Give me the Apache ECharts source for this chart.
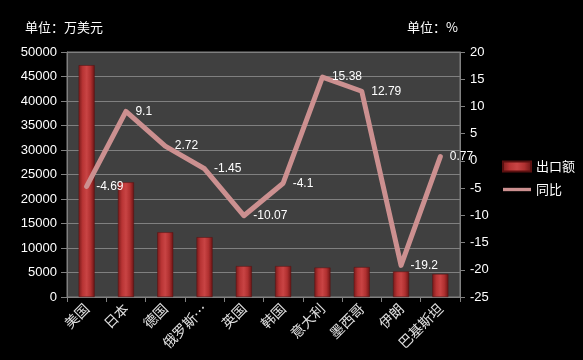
<!DOCTYPE html>
<html><head><meta charset="utf-8">
<script src="https://cdn.jsdelivr.net/npm/echarts@6/dist/echarts.min.js"></script>
<style>html,body{margin:0;padding:0;background:#000;}#c{width:583px;height:360px;}</style>
</head><body><div id="c"></div>
<script>
const categories = ['美国','日本','德国','俄罗斯…','英国','韩国','意大利','墨西哥','伊朗','巴基斯坦'];
const exportValues = [47300, 23400, 13200, 12200, 6300, 6300, 6000, 6100, 5200, 4700];
const yoyValues = [-4.69, 9.1, 2.72, -1.45, -10.07, -4.1, 15.38, 12.79, -19.2, 0.77];
const leftTicks = {min: 0, max: 50000, interval: 5000};
const rightTicks = {min: -25, max: 20, interval: 5};

const chart = echarts.init(document.getElementById('c'), null, {renderer: 'canvas'});
const tickFont = {color: '#ffffff', fontFamily: 'Liberation Sans', fontSize: 13};
chart.setOption({
  backgroundColor: '#000000',
  animation: false,
  title: [
    {text: '单位：万美元', left: 20, top: 16, textStyle: {color: '#fff', fontSize: 13, fontWeight: 'normal', fontFamily: 'Noto Sans CJK SC'}},
    {text: '单位：%', left: 402, top: 16, textStyle: {color: '#fff', fontSize: 13, fontWeight: 'normal', fontFamily: 'Noto Sans CJK SC'}}
  ],
  legend: {
    orient: 'vertical', left: 497, top: 155, itemGap: 10, itemWidth: 28, itemHeight: 10,
    textStyle: {color: '#fff', fontSize: 13, fontFamily: 'Noto Sans CJK SC'},
    data: [
      {name: '出口额', icon: 'rect'},
      {name: '同比', icon: 'path://M0,0 L10,0 L10,1.2 L0,1.2 Z'}
    ]
  },
  grid: {left: 67, right: 123, top: 52, bottom: 63, show: true, backgroundColor: '#404040', borderColor: '#808080', borderWidth: 1},
  xAxis: {
    type: 'category', data: categories, boundaryGap: true,
    axisLine: {lineStyle: {color: '#808080'}},
    axisTick: {show: true, length: 5, lineStyle: {color: '#808080'}},
    axisLabel: {rotate: 45, color: '#e0e0e0', fontSize: 14, fontFamily: 'Noto Sans CJK SC', margin: 9, interval: 0}
  },
  yAxis: [
    {type: 'value', min: leftTicks.min, max: leftTicks.max, interval: leftTicks.interval, position: 'left',
     axisLine: {show: true, lineStyle: {color: '#808080'}},
     axisTick: {show: true, length: 6, lineStyle: {color: '#808080'}},
     axisLabel: Object.assign({margin: 10, formatter: function (v) { return String(v); }}, tickFont),
     splitLine: {show: true, lineStyle: {color: '#808080', width: 1}}},
    {type: 'value', min: rightTicks.min, max: rightTicks.max, interval: rightTicks.interval, position: 'right',
     axisLine: {show: true, lineStyle: {color: '#808080'}},
     axisTick: {show: true, length: 5, lineStyle: {color: '#808080'}},
     axisLabel: Object.assign({margin: 10}, tickFont),
     splitLine: {show: false}}
  ],
  series: [
    {name: '出口额', type: 'bar', yAxisIndex: 0, data: exportValues, barWidth: 16,
     itemStyle: {
       color: new echarts.graphic.LinearGradient(0, 0, 1, 0, [
         {offset: 0, color: '#7a1a1a'}, {offset: 0.25, color: '#b83434'},
         {offset: 0.5, color: '#c94444'}, {offset: 0.75, color: '#b03030'},
         {offset: 1, color: '#6a1414'}]),
       borderColor: '#5a1010', borderWidth: 0.5
     }},
    {name: '同比', type: 'line', yAxisIndex: 1, data: yoyValues,
     symbol: 'circle', symbolSize: 1, showSymbol: true,
     itemStyle: {color: '#cc9090'},
     lineStyle: {color: '#cc9090', width: 5, cap: 'round', join: 'round'},
     label: {show: true, position: 'right', distance: 9, color: '#ffffff', fontSize: 12, fontFamily: 'Liberation Sans'}}
  ]
});
</script></body></html>
